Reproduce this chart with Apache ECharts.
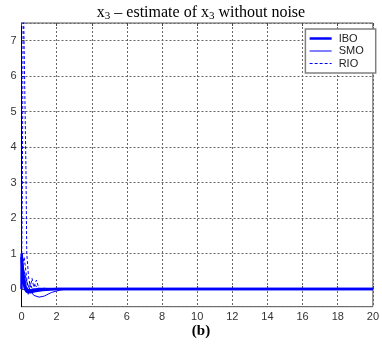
<!DOCTYPE html>
<html>
<head>
<meta charset="utf-8">
<script src="https://cdn.jsdelivr.net/npm/echarts@6/dist/echarts.min.js"></script>
<style>
  html, body { margin: 0; padding: 0; background: #fff; }
  #chart { width: 382px; height: 346px; }
</style>
</head>
<body>
<div id="chart"></div>
<script>
// Axis ticks
const xTicks = [0, 2, 4, 6, 8, 10, 12, 14, 16, 18, 20];
const yTicks = [0, 1, 2, 3, 4, 5, 6, 7];

// Estimation error of x3, one array per run: [time, error]
const iboRunA = [[0, 0], [0.01, 1], [0.05, 0.6], [0.1, 0.25], [0.2, 0.0], [0.3, -0.08], [0.5, -0.09], [0.8, -0.06], [1.2, -0.03], [2.0, 0], [20, 0]];
const iboRunB = [[0, 0.9], [0.08, 0.4], [0.2, 0.05], [0.35, -0.04], [0.6, -0.03], [1.0, 0], [20, 0]];

const smoRunA = [[0, 1], [0.1, 0.6], [0.3, 0.2], [0.5, -0.05], [0.7, -0.18], [1.0, -0.23], [1.3, -0.2], [1.7, -0.1], [2.2, -0.03], [2.6, 0], [20, 0]];
const smoRunB = [[0, 0.9], [0.15, 0.4], [0.3, 0.0], [0.45, -0.1], [0.6, -0.08], [1.0, -0.03], [1.5, 0], [20, 0]];

const rioRunA = [[0, 0], [0.05, 3], [0.1, 8.5], [0.2, 8.5], [0.25, 3.5], [0.3, 1.0], [0.4, 0.35], [0.5, 0.05], [0.6, 0.3], [0.7, 0.05], [0.85, 0.25], [1.0, 0.0], [1.3, 0.02], [1.6, 0], [20, 0]];
const rioRunB = [[0, 0.5], [0.15, 0.9], [0.3, 0.3], [0.38, -0.15], [0.5, 0.15], [0.65, -0.05], [0.8, 0.1], [1.0, -0.02], [1.4, 0], [20, 0]];

const names = ['IBO', 'SMO', 'RIO'];
const blue = '#0000ff';
const gridDash = { color: '#666', type: [2, 2], width: 1 };

// line look per observer
const looks = {
  IBO: { width: 2.5, type: 'solid' },
  SMO: { width: 1, type: 'solid' },
  RIO: { width: 1, type: [3, 2] }
};

function run(name, data) {
  return {
    name: name,
    type: 'line',
    data: data,
    symbol: 'none',
    showSymbol: false,
    animation: false,
    lineStyle: { color: blue, width: looks[name].width, type: looks[name].type },
    itemStyle: { color: blue }
  };
}

const chart = echarts.init(document.getElementById('chart'));
chart.setOption({
  animation: false,
  backgroundColor: '#fff',
  grid: {
    left: 21.5, right: 4, top: 23, bottom: 39.3,
    show: true, borderColor: '#555', borderWidth: 1, backgroundColor: 'transparent'
  },
  legend: {
    data: names.map(n => ({
      name: n,
      itemStyle: { opacity: 0 },
      lineStyle: { color: blue, width: looks[n].width, type: looks[n].type }
    })),
    orient: 'vertical',
    right: 6.3,
    top: 29,
    padding: [4, 12, 4, 3],
    itemWidth: 22,
    itemHeight: 12,
    itemGap: 1.5,
    backgroundColor: '#fff',
    borderColor: '#808080',
    borderWidth: 1.5,
    borderRadius: 0,
    textStyle: { fontFamily: 'Liberation Sans', fontSize: 11, color: '#222', padding: [0, 0, 0, 2] }
  },
  xAxis: [{
    type: 'value',
    min: xTicks[0],
    max: xTicks[xTicks.length - 1],
    interval: 2,
    axisLine: { lineStyle: { color: '#000', width: 1 } },
    axisTick: { inside: true, length: 3, lineStyle: { color: '#444' } },
    axisLabel: { margin: 5, fontFamily: 'Liberation Sans', fontSize: 11, color: '#333',
      formatter: v => xTicks.includes(v) ? String(v) : '' },
    splitLine: { show: true, lineStyle: gridDash }
  }, {
    // mirrored ticks along the top edge
    type: 'value',
    position: 'top',
    min: xTicks[0],
    max: xTicks[xTicks.length - 1],
    interval: 2,
    axisLine: { show: false },
    axisTick: { show: true, inside: true, length: 3, lineStyle: { color: '#444' } },
    axisLabel: { show: false },
    splitLine: { show: false }
  }],
  yAxis: {
    type: 'value',
    min: -0.5,
    max: 7.5,
    splitNumber: 8,
    axisLine: { show: true, lineStyle: { color: '#000', width: 1 } },
    axisTick: { show: true, inside: true, length: 3, lineStyle: { color: '#444' } },
    axisLabel: { margin: 5, fontFamily: 'Liberation Sans', fontSize: 11, color: '#333',
      showMinLabel: false, showMaxLabel: false,
      formatter: v => yTicks.includes(v) ? String(v) : '' },
    splitLine: { show: true, lineStyle: gridDash }
  },
  graphic: [
    {
      type: 'text',
      x: 201, y: 13,
      style: {
        text: '{m|x}{s|3}{m| – estimate of x}{s|3}{m| without noise}',
        align: 'center', verticalAlign: 'middle',
        rich: {
          m: { fontFamily: 'Liberation Serif', fontSize: 16, color: '#000' },
          s: { fontFamily: 'Liberation Serif', fontSize: 11, color: '#000', padding: [7, 0, 0, 0] }
        }
      }
    },
    {
      type: 'text',
      x: 201, y: 331,
      style: {
        text: '(b)',
        align: 'center', verticalAlign: 'middle',
        fontFamily: 'Liberation Serif', fontWeight: 'bold', fontSize: 15, fill: '#000'
      }
    }
  ],
  series: [
    run('IBO', iboRunA),
    run('IBO', iboRunB),
    run('SMO', smoRunA),
    run('SMO', smoRunB),
    run('RIO', rioRunA),
    run('RIO', rioRunB)
  ]
});
</script>
</body>
</html>
